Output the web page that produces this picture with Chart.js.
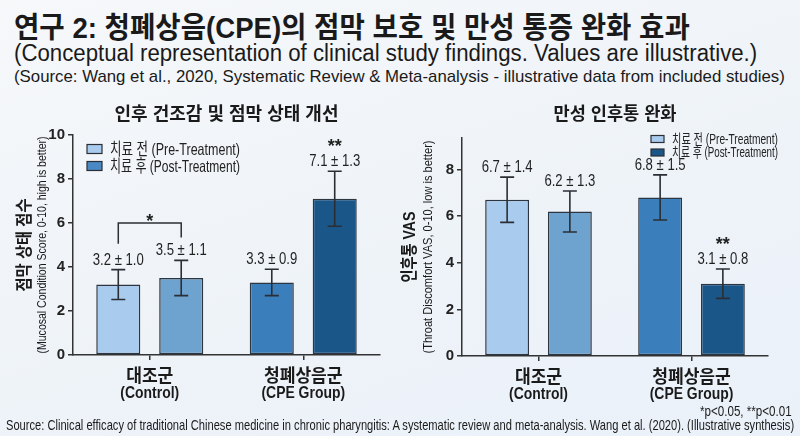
<!DOCTYPE html>
<html>
<head>
<meta charset="utf-8">
<script src="https://cdn.jsdelivr.net/npm/chart.js@4.4.1/dist/chart.umd.min.js"></script>
<style>
  html, body { margin: 0; padding: 0; }
  body {
    width: 800px; height: 436px; overflow: hidden; position: relative;
    background: linear-gradient(160deg, #f6f8fa 0%, #eef3f8 55%, #eaf1f9 100%);
    font-family: "Liberation Sans", "Noto Sans CJK KR", sans-serif;
    color: #1a1a1a;
  }
  .txt { position: absolute; white-space: nowrap; transform-origin: left center; }
  #title { left: 14px; top: 4px; font-size: 29px; font-weight: bold; }
  #sub1 { left: 14px; top: 40px; font-size: 23px; }
  #sub2 { left: 14px; top: 67px; font-size: 17px; }
  #sig { left: 700px; top: 403px; font-size: 14px; }
  #src { left: 6px; top: 416px; font-size: 15px; }
  canvas { position: absolute; top: 95px; }
  #c1 { left: 0; }
  #c2 { left: 400px; }
</style>
</head>
<body>
<div class="txt" id="title" data-w="676">연구 2: 청폐상음(CPE)의 점막 보호 및 만성 통증 완화 효과</div>
<div class="txt" id="sub1" data-w="743">(Conceptual representation of clinical study findings. Values are illustrative.)</div>
<div class="txt" id="sub2" data-w="771">(Source: Wang et al., 2020, Systematic Review &amp; Meta-analysis - illustrative data from included studies)</div>
<canvas id="c1" width="400" height="315"></canvas>
<canvas id="c2" width="400" height="315"></canvas>
<div class="txt" id="sig" data-w="92">*p&lt;0.05, **p&lt;0.01</div>
<div class="txt" id="src" data-w="788">Source: Clinical efficacy of traditional Chinese medicine in chronic pharyngitis: A systematic review and meta-analysis. Wang et al. (2020). (Illustrative synthesis)</div>
<script>
const FONT = '"Liberation Sans", "Noto Sans CJK KR", sans-serif';
const SX = 0.82; // condensed look

// categories
const groups = ['대조군', '청폐상음군'];
const groupsEn = ['(Control)', '(CPE Group)'];
const legendLabels = ['치료 전 (Pre-Treatment)', '치료 후 (Post-Treatment)'];

// chart 1 - mucosal condition score
const mucosaPre = [3.2, 3.3];
const mucosaPreSd = [1.0, 0.9];
const mucosaPreErr = [0.68, 0.6];   // whisker as drawn
const mucosaPost = [3.5, 7.1];
const mucosaPostSd = [1.1, 1.3];
const mucosaPostErr = [0.8, 1.25];
const mucosaPostSig = ['', '**'];

// chart 2 - throat discomfort VAS
const vasPre = [6.7, 6.8];
const vasPreSd = [1.4, 1.5];
const vasPreErr = [0.97, 0.97];
const vasPost = [6.2, 3.1];
const vasPostSd = [1.3, 0.8];
const vasPostErr = [0.88, 0.63];
const vasPostSig = ['', '**'];

// colours per bar: [control, CPE]
const preColors = ['#a9cbee', '#3a7fbb'];
const postColors = ['#6fa3cf', '#1b5689'];

// squeeze html text to its width in the picture
document.querySelectorAll('.txt').forEach(el => {
  const w = +el.dataset.w;
  el.style.transform = 'scaleX(' + (w / el.offsetWidth) + ')';
});

function drawText(ctx, text, x, y, sx) {
  ctx.save();
  ctx.translate(x, y);
  ctx.scale(sx, 1);
  ctx.fillText(text, 0, 0);
  ctx.restore();
}
function fitText(ctx, text, x, y, w) {
  drawText(ctx, text, x, y, w / ctx.measureText(text).width);
}

const annot = {
  id: 'annot',
  afterDatasetsDraw(chart, args, opts) {
    const ctx = chart.ctx;
    const ca = chart.chartArea;
    const y = chart.scales.y;
    const x = chart.scales.x;
    ctx.save();

    // error bars + labels
    const tops = [[], []];
    chart.data.datasets.forEach((ds, di) => {
      const meta = chart.getDatasetMeta(di);
      meta.data.forEach((bar, i) => {
        const v = ds.data[i];
        const e = ds.err[i];
        const yt = y.getPixelForValue(v + e);
        const yb = y.getPixelForValue(v - e);
        ctx.strokeStyle = '#2b2f35';
        ctx.lineWidth = 1.6;
        ctx.beginPath();
        ctx.moveTo(bar.x, yt); ctx.lineTo(bar.x, yb);
        ctx.moveTo(bar.x - 7, yt); ctx.lineTo(bar.x + 7, yt);
        ctx.moveTo(bar.x - 7, yb); ctx.lineTo(bar.x + 7, yb);
        ctx.stroke();
        tops[di][i] = yt;

        ctx.fillStyle = '#1f1f1f';
        ctx.font = '16px ' + FONT;
        ctx.textAlign = 'center';
        ctx.textBaseline = 'alphabetic';
        drawText(ctx, v.toFixed(1) + ' ± ' + ds.sd[i].toFixed(1), bar.x, yt - 5, SX);
        if (ds.sig && ds.sig[i]) {
          ctx.font = 'bold 18px ' + FONT;
          drawText(ctx, ds.sig[i], bar.x, yt - 19, 1);
        }
      });
    });

    // significance bracket
    if (opts.bracket) {
      const b = opts.bracket;
      const b0 = chart.getDatasetMeta(0).data[b.index];
      const b1 = chart.getDatasetMeta(1).data[b.index];
      const yy = y.getPixelForValue(b.level);
      ctx.strokeStyle = '#2b2f35';
      ctx.lineWidth = 1.5;
      ctx.beginPath();
      ctx.moveTo(b0.x, tops[0][b.index] - 26);
      ctx.lineTo(b0.x, yy);
      ctx.lineTo(b1.x, yy);
      ctx.lineTo(b1.x, tops[1][b.index] - 23);
      ctx.stroke();
      ctx.fillStyle = '#1f1f1f';
      ctx.font = 'bold 18px ' + FONT;
      ctx.textAlign = 'center';
      ctx.fillText(b.text, (b0.x + b1.x) / 2, yy + 4);
    }

    // legend
    const lg = opts.legend;
    legendLabels.forEach((t, i) => {
      const ly = lg.y + i * lg.gap;
      ctx.fillStyle = lg.colors[i];
      ctx.fillRect(lg.x, ly - lg.bh / 2, lg.bw, lg.bh);
      ctx.strokeStyle = '#2b2f35';
      ctx.lineWidth = 1.2;
      ctx.strokeRect(lg.x, ly - lg.bh / 2, lg.bw, lg.bh);
      ctx.fillStyle = '#222';
      ctx.font = lg.size + 'px ' + FONT;
      ctx.textAlign = 'left';
      ctx.textBaseline = 'middle';
      fitText(ctx, t, lg.x + lg.bw + 8, ly + 1, lg.tw);
    });

    // subplot title
    ctx.fillStyle = '#1a1a1a';
    ctx.font = 'bold 18px ' + FONT;
    ctx.textAlign = 'center';
    ctx.textBaseline = 'middle';
    fitText(ctx, opts.title, (ca.left + ca.right) / 2, 20, opts.titleW);

    // y axis titles
    const cy = (ca.top + ca.bottom) / 2;
    ctx.save();
    ctx.translate(opts.yTitleX[0], cy);
    ctx.rotate(-Math.PI / 2);
    ctx.font = 'bold 17px ' + FONT;
    fitText(ctx, opts.yTitle[0], 0, 0, opts.yTitleW[0]);
    ctx.font = '13px ' + FONT;
    fitText(ctx, opts.yTitle[1], 0, opts.yTitleX[1] - opts.yTitleX[0], opts.yTitleW[1]);
    ctx.restore();

    // category labels
    groups.forEach((g, i) => {
      const px = x.getPixelForValue(i);
      ctx.font = 'bold 18px ' + FONT;
      drawText(ctx, g, px, ca.bottom + 22, 0.95);
      ctx.font = 'bold 17px ' + FONT;
      drawText(ctx, groupsEn[i], px, ca.bottom + 38, SX);
    });
    ctx.restore();
  }
};

function makeChart(id, c) {
  return new Chart(document.getElementById(id), {
    type: 'bar',
    data: {
      labels: groups,
      datasets: [
        { label: legendLabels[0], data: c.pre, sd: c.preSd, err: c.preErr, backgroundColor: preColors },
        { label: legendLabels[1], data: c.post, sd: c.postSd, err: c.postErr, sig: c.sig, backgroundColor: postColors }
      ]
    },
    options: {
      responsive: false,
      animation: false,
      devicePixelRatio: 1,
      categoryPercentage: 0.82,
      barPercentage: 0.7,
      datasets: { bar: { borderColor: '#2d3540', borderWidth: 1.5, borderSkipped: false } },
      layout: { padding: { top: c.top, right: c.right, left: 0, bottom: 0 } },
      plugins: {
        legend: { display: false },
        tooltip: { enabled: false },
        annot: c.annot
      },
      scales: {
        x: {
          grid: { display: true, drawOnChartArea: false, offset: false, tickLength: 5, color: '#333', lineWidth: 1.5 },
          border: { color: '#333', width: 1.5 },
          ticks: { display: false },
          afterFit(s) { s.height = c.xh; }
        },
        y: {
          min: 0, max: c.max,
          grid: { display: true, drawOnChartArea: false, tickLength: 5, color: '#333', lineWidth: 1.5 },
          border: { color: '#333', width: 1.5 },
          ticks: { stepSize: 2, includeBounds: false, color: '#222', padding: 3, font: { family: FONT, size: 15, weight: 'bold' } },
          afterFit(s) { s.width = c.yw; }
        }
      }
    },
    plugins: [annot]
  });
}

makeChart('c1', {
  pre: mucosaPre, preSd: mucosaPreSd, preErr: mucosaPreErr,
  post: mucosaPost, postSd: mucosaPostSd, postErr: mucosaPostErr, sig: mucosaPostSig,
  max: 10, top: 40, right: 20, xh: 55, yw: 73,
  annot: {
    title: '인후 건조감 및 점막 상태 개선', titleW: 224,
    yTitle: ['점막 상태 점수', '(Mucosal Condition Score, 0-10, high is better)'],
    yTitleX: [25, 42], yTitleW: [93, 217],
    bracket: { index: 0, level: 6.0, text: '*' },
    legend: { x: 87, y: 54, gap: 17, bw: 15, bh: 9, size: 16.5, tw: 130, colors: ['#a9cbee', '#4a89c4'] }
  }
});

makeChart('c2', {
  pre: vasPre, preSd: vasPreSd, preErr: vasPreErr,
  post: vasPost, postSd: vasPostSd, postErr: vasPostErr, sig: vasPostSig,
  max: 9.35, top: 43, right: 32, xh: 54, yw: 62,
  annot: {
    title: '만성 인후통 완화', titleW: 123,
    yTitle: ['인후통 VAS', '(Throat Discomfort VAS, 0-10, low is better)'],
    yTitleX: [10, 28], yTitleW: [71, 213],
    legend: { x: 251, y: 44, gap: 13.5, bw: 13, bh: 7, size: 14, tw: 106, colors: ['#a9cbee', '#1b5689'] }
  }
});
</script>
</body>
</html>
